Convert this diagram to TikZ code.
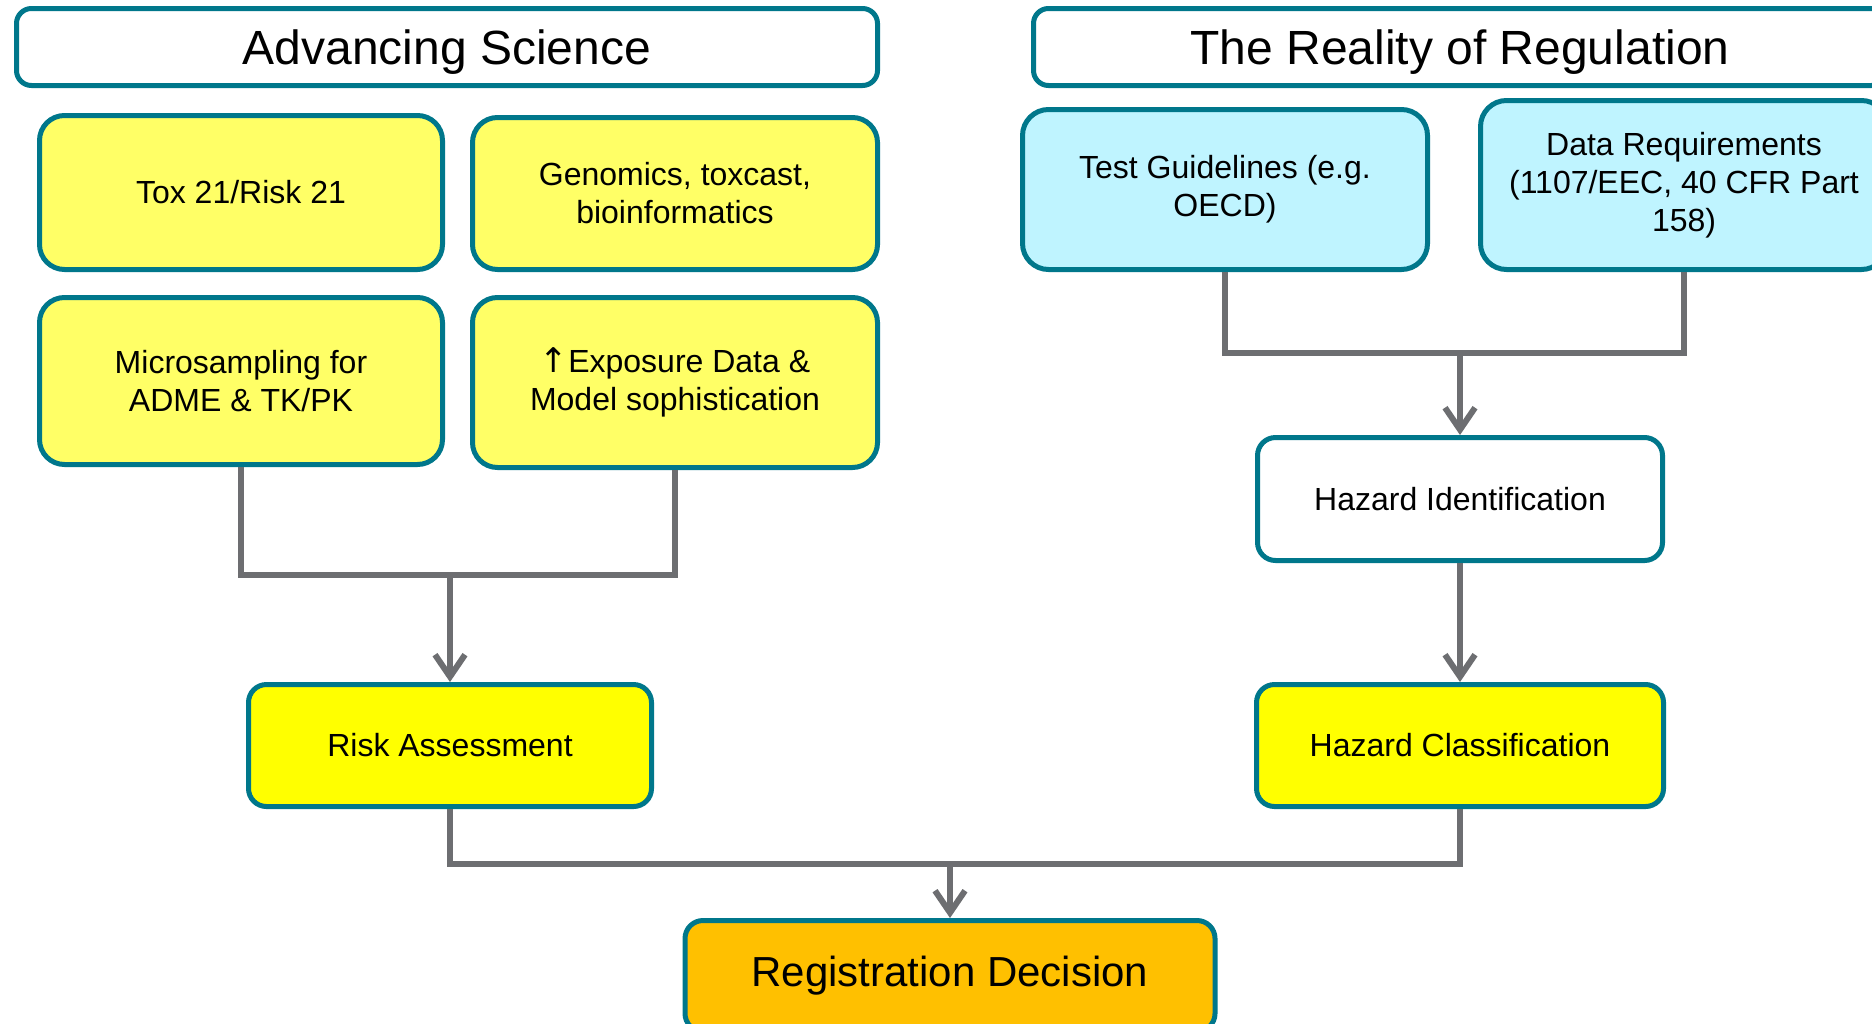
\documentclass[tikz,border=0pt]{standalone}
\usepackage{fontspec}
\setmainfont{Liberation Sans}
\newfontfamily\symfont{DejaVu Sans}
\usetikzlibrary{arrows.meta}
\definecolor{bordc}{HTML}{00778B}
\definecolor{lyel}{HTML}{FFFF66}
\definecolor{fyel}{HTML}{FFFF00}
\definecolor{lcyan}{HTML}{BFF4FF}
\definecolor{orng}{HTML}{FFC000}
\definecolor{conc}{HTML}{6D6E71}
\begin{document}
\begin{tikzpicture}[x=0.5pt,y=-0.5pt,
  basebox/.style={draw=bordc, line width=2.5pt, align=center, inner sep=0pt, font=\fontsize{16}{19}\selectfont},
  titlebox/.style={basebox, fill=white, rounded corners=7.5pt, font=\fontsize{24}{28}\selectfont, text depth=0pt},
  ybox/.style={basebox, fill=lyel, rounded corners=12.5pt},
  cbox/.style={basebox, fill=lcyan, rounded corners=13pt},
  wbox/.style={basebox, fill=white, rounded corners=9pt},
  fbox/.style={basebox, fill=fyel, rounded corners=9pt},
  obox/.style={basebox, fill=orng, rounded corners=9pt, font=\fontsize{21}{25}\selectfont},
  conn/.style={draw=conc, line width=3pt, line join=miter},
  arr/.style={conn, -{Straight Barb[length=11pt,width=15pt]}}
]
\clip (0,0) rectangle (1872,1023);
\fill[white] (0,0) rectangle (1872,1023);

\node[titlebox, minimum width=430.5pt, minimum height=38.5pt] (sci) at (447,47) {Advancing Science};
\node[titlebox, minimum width=426.5pt, minimum height=38.5pt] (reg) at (1460,47) {The Reality of Regulation};

\node[ybox, minimum width=201.5pt, minimum height=77pt] (tox) at (241,192.5) {Tox 21/Risk 21};
\node[ybox, minimum width=202.5pt, minimum height=76pt] (geno) at (675,193.5) {Genomics, toxcast,\\bioinformatics};
\node[ybox, minimum width=201.5pt, minimum height=83.5pt] (micro) at (241,381) {Microsampling for\\ADME \& TK/PK};
\node[ybox, minimum width=202.5pt, minimum height=85pt] (expo) at (675,382.5) {{\symfont\fontsize{17}{19}\selectfont ↑}Exposure Data \&\\Model sophistication};

\node[cbox, minimum width=202.5pt, minimum height=80pt] (test) at (1225,189.5) {Test Guidelines (e.g.\\OECD)};
\node[cbox, minimum width=203.5pt, minimum height=84.5pt] (data) at (1684,185) {Data Requirements\\(1107/EEC, 40 CFR Part\\158)};

\node[wbox, minimum width=202.5pt, minimum height=61.5pt] (hazid) at (1460,499) {Hazard Identification};
\node[fbox, minimum width=201.5pt, minimum height=61pt] (risk) at (450,745.5) {Risk Assessment};
\node[fbox, minimum width=203.5pt, minimum height=61pt] (hazcl) at (1460,745.5) {Hazard Classification};
\node[obox, minimum width=265pt, minimum height=55.5pt] (regd) at (950,976) {Registration Decision};

\coordinate (jl) at (450,575);
\coordinate (jr) at (1460,353);
\coordinate (jb) at (950,864);

\draw[conn] (micro.south) |- (jl);
\draw[conn] (expo.south) |- (jl);
\draw[arr] (jl) -- (risk.north);

\draw[conn] (test.south) |- (jr);
\draw[conn] (data.south) |- (jr);
\draw[arr] (jr) -- (hazid.north);

\draw[arr] (hazid.south) -- (hazcl.north);

\draw[conn] (risk.south) |- (jb);
\draw[conn] (hazcl.south) |- (jb);
\draw[arr] (jb) -- (regd.north);
\end{tikzpicture}
\end{document}
